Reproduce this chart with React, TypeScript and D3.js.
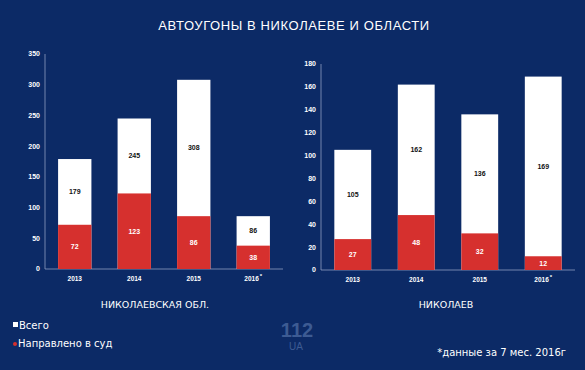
import React from "react";
import * as d3 from "d3";

// data
const years = ["2013", "2014", "2015", "2016"];
const regionTotal = [179, 245, 308, 86];
const regionCourt = [72, 123, 86, 38];
const cityTotal = [105, 162, 136, 169];
const cityCourt = [27, 48, 32, 12];
const regionTicks = [0, 50, 100, 150, 200, 250, 300, 350];
const cityTicks = [0, 20, 40, 60, 80, 100, 120, 140, 160, 180];

const BG = "#0c2a66";
const RED = "#d6302e";
const AXIS = "#8d9cc0";
const FONT = "'Liberation Sans', Arial, sans-serif";
const WIDE = "'DejaVu Sans', Verdana, sans-serif";

type PanelProps = {
  total: number[];
  court: number[];
  ticks: number[];
  max: number;
  x0: number;
  x1: number;
  yTop: number;
  yBottom: number;
  padInner: number;
  title: string;
  titleX: number;
};

function Panel({ total, court, ticks, max, x0, x1, yTop, yBottom, padInner, title, titleX }: PanelProps) {
  const y = d3.scaleLinear().domain([0, max]).range([yBottom, yTop]);
  const x = d3.scaleBand().domain(years).range([x0, x1]).paddingInner(padInner).paddingOuter(padInner / 2);
  const bw = x.bandwidth();
  return (
    <g>
      <line x1={x0} x2={x0} y1={yTop} y2={yBottom} stroke={AXIS} strokeWidth={0.8} />
      <line x1={x0} x2={x1} y1={yBottom} y2={yBottom} stroke={AXIS} strokeWidth={0.8} />
      {ticks.map((t) => (
        <text key={t} x={x0 - 5} y={y(t)} dy="0.35em" textAnchor="end" fill="#fff" fontSize={7} fontWeight="bold" fontFamily={FONT}>
          {t}
        </text>
      ))}
      {years.map((yr, i) => {
        const bx = x(yr) as number;
        return (
          <g key={yr}>
            <rect x={bx} width={bw} y={y(total[i])} height={yBottom - y(total[i])} fill="#fff" />
            <rect x={bx} width={bw} y={y(court[i])} height={yBottom - y(court[i])} fill={RED} />
            <text x={bx + bw / 2} y={y((total[i] + court[i]) / 2)} dy="0.35em" textAnchor="middle" fill="#111" fontSize={7} fontWeight="bold" fontFamily={FONT}>
              {total[i]}
            </text>
            <text x={bx + bw / 2} y={y(court[i] / 2)} dy="0.35em" textAnchor="middle" fill="#fff" fontSize={7} fontWeight="bold" fontFamily={FONT}>
              {court[i]}
            </text>
            <text x={bx + bw / 2} y={yBottom + 10} dy="0.35em" textAnchor="middle" fill="#fff" fontSize={6.5} fontWeight="bold" fontFamily={FONT}>
              {yr}
              {i === years.length - 1 ? <tspan dx={1} dy={-3} fontSize={6}>*</tspan> : null}
            </text>
          </g>
        );
      })}
      <text x={titleX} y={305} dy="0.35em" textAnchor="middle" fill="#fff" fontSize={9.5} fontFamily={WIDE}>
        {title}
      </text>
    </g>
  );
}

export default function App() {
  return (
    <svg width={585} height={370} style={{ position: "absolute", left: 0, top: 0, display: "block" }}>
      <rect width={585} height={370} fill={BG} />
      <text x={294} y={25} dy="0.35em" textAnchor="middle" fill="#fff" fontSize={13} fontFamily={FONT} letterSpacing={0.6}>
        АВТОУГОНЫ В НИКОЛАЕВЕ И ОБЛАСТИ
      </text>
      <Panel total={regionTotal} court={regionCourt} ticks={regionTicks} max={350} x0={45} x1={283}
        yTop={54} yBottom={269} padInner={0.44} title="НИКОЛАЕВСКАЯ ОБЛ." titleX={155} />
      <Panel total={cityTotal} court={cityCourt} ticks={cityTicks} max={180} x0={321} x1={575}
        yTop={64} yBottom={270} padInner={0.42} title="НИКОЛАЕВ" titleX={446} />
      <rect x={13} y={322} width={5} height={5} fill="#fff" />
      <text x={19} y={325} dy="0.35em" fill="#fff" fontSize={10} fontFamily={WIDE}>Всего</text>
      <circle cx={15} cy={344} r={2} fill={RED} />
      <text x={18} y={343} dy="0.35em" fill="#fff" fontSize={10} fontFamily={WIDE}>Направлено в суд</text>
      <text x={297} y={337} textAnchor="middle" fill="#3d5b93" fontSize={20} fontWeight="bold" fontFamily={FONT}>112</text>
      <text x={296} y={350} textAnchor="middle" fill="#3d5b93" fontSize={10} fontFamily={FONT}>UA</text>
      <text x={566} y={352} dy="0.35em" textAnchor="end" fill="#fff" fontSize={10} fontFamily={WIDE}>*данные за 7 мес. 2016г</text>
    </svg>
  );
}
